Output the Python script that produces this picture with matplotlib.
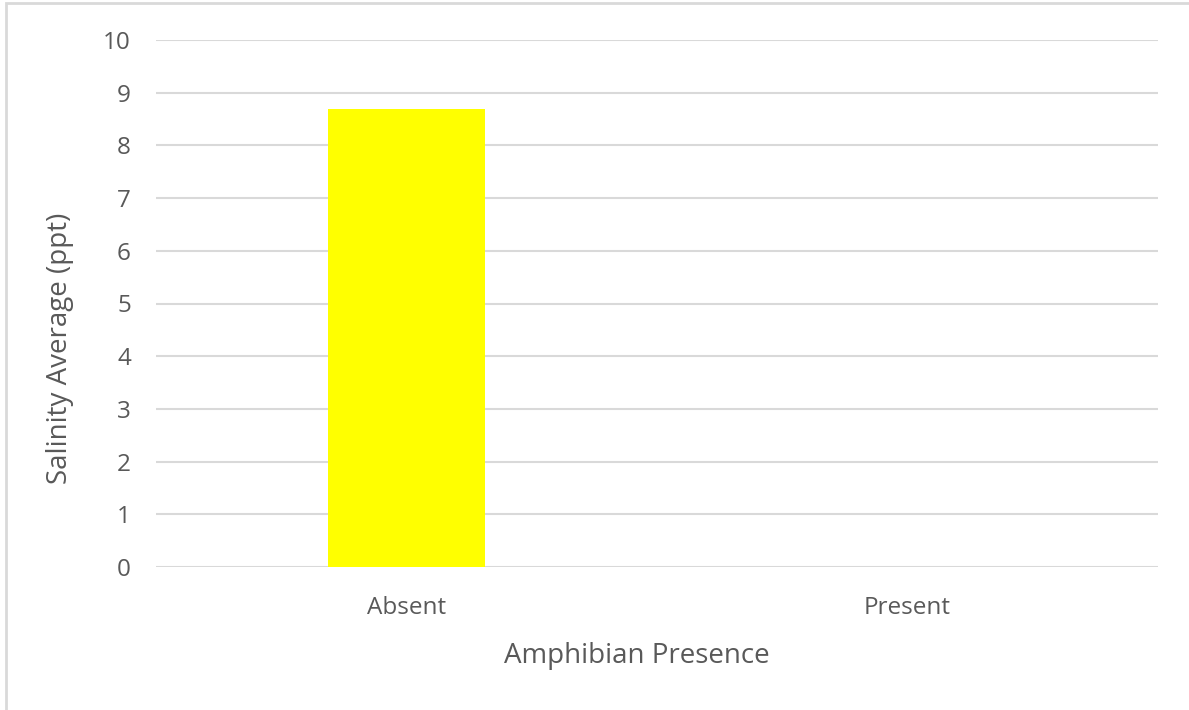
import matplotlib.pyplot as plt
from matplotlib.patches import Rectangle

categories = ['Absent', 'Present']
salinity = [8.7, 0.0]
yticks = list(range(0, 11))

plt.rcParams['font.family'] = ['Open Sans', 'DejaVu Sans']

fig = plt.figure(figsize=(11.89, 7.10), dpi=100)
ax = fig.add_axes([156 / 1189, 1 - 567 / 710, (1158 - 156) / 1189, (567 - 40) / 710])

x = range(len(categories))
ax.bar(x, salinity, width=0.313, color='#ffff00', zorder=3)

ax.set_xlim(-0.5, len(categories) - 0.5)
ax.set_ylim(0, 10)
ax.set_yticks(yticks)
ax.set_xticks(list(x))
ax.set_xticklabels(categories)

for y in yticks:
    ax.axhline(y, color='#d9d9d9', lw=1.5, zorder=1)

for s in ax.spines.values():
    s.set_visible(False)
ax.tick_params(length=0, labelsize=17.5, colors='#595959', pad=18)
ax.tick_params(axis='x', pad=21)

ax.set_xlabel('Amphibian Presence', fontsize=20, color='#595959', labelpad=16)
ax.set_ylabel('Salinity Average (ppt)', fontsize=20, color='#595959', labelpad=21)
# titles sit centred on the whole chart area, not the plot area
ax.xaxis.label.set_x(0.48)
ax.yaxis.label.set_y(0.415)

# chart area outline (top and left edges)
fig.patches.append(Rectangle((6 / 1189, -0.1), 1.2, 1 - 3 / 710 + 0.1,
                             transform=fig.transFigure, fill=False,
                             edgecolor='#d9d9d9', lw=2))

fig.savefig('out.png', dpi=100)
